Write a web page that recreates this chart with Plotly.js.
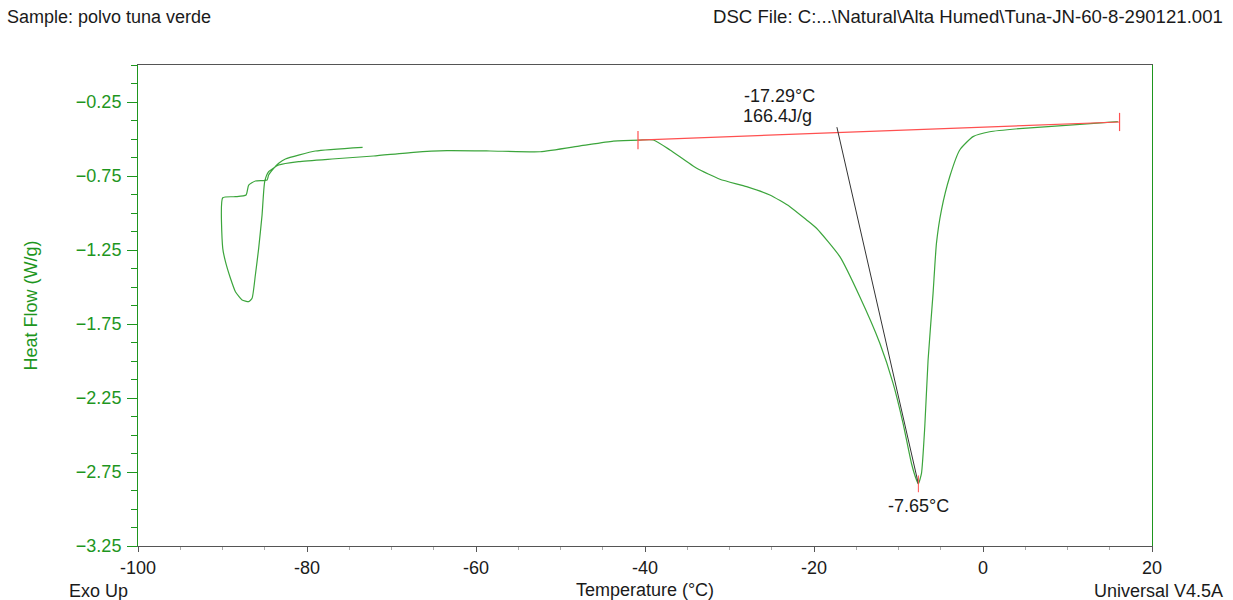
<!DOCTYPE html>
<html>
<head>
<meta charset="utf-8">
<script src="https://cdn.plot.ly/plotly-3.0.1.min.js"></script>
<style>
  html, body { margin: 0; padding: 0; background: #fff; }
  #chart { width: 1233px; height: 600px; }
</style>
</head>
<body>
<div id="chart"></div>
<script>
// DSC thermogram: heat flow (W/g) against temperature (°C)
const curveTemp = [
  -73.42, -79.01, -82.56, -83.35, -83.94, -84.54, -84.72, -86.11, -86.90, -87.21,
  -88.47, -89.97, -89.97, -89.65, -89.06, -88.47, -87.68, -86.90, -86.50, -86.11,
  -85.72, -85.32, -85.01, -84.54, -83.35, -80.99, -77.04, -72.12, -67.39, -63.44,
  -58.32, -52.41, -47.68, -43.75, -40.59, -39.02, -37.04, -33.88, -31.13, -27.97,
  -25.22, -22.85, -20.88, -19.70, -16.94, -14.58, -12.21, -10.64, -9.46, -8.47,
  -7.87, -7.65, -7.28, -6.89, -6.50, -5.91, -5.51, -4.92, -3.94, -2.75,
  -1.18, 0.79, 4.73, 10.64, 15.96
];
const curveHeatFlow = [
  -0.556, -0.581, -0.635, -0.664, -0.698, -0.743, -0.777, -0.784, -0.811, -0.878,
  -0.890, -0.897, -1.239, -1.329, -1.441, -1.532, -1.588, -1.599, -1.576, -1.419,
  -1.239, -1.014, -0.789, -0.721, -0.676, -0.653, -0.635, -0.615, -0.590, -0.579,
  -0.581, -0.586, -0.547, -0.514, -0.507, -0.507, -0.574, -0.698, -0.772, -0.822,
  -0.878, -0.957, -1.047, -1.103, -1.295, -1.566, -1.880, -2.151, -2.421, -2.691,
  -2.804, -2.830, -2.759, -2.444, -1.993, -1.543, -1.205, -0.980, -0.755, -0.574,
  -0.484, -0.451, -0.428, -0.405, -0.383
];

// Temperature axis labels (plain hyphen minus, as printed by the instrument software)
const tempTickVals = [-100, -80, -60, -40, -20, 0, 20];
const tempTickText = ['-100', '-80', '-60', '-40', '-20', '0', '20'];

// Integration baseline end points
const baselineTemp = [-40.83, 16.16];
const baselineHeatFlow = [-0.507, -0.385];

// Peak analysis results
const onsetTemp = -17.29;
const onsetHeatFlow = -0.42;
const peakTemp = -7.65;
const peakHeatFlow = -2.83;
const enthalpy = 166.4;

const green = 'rgb(30,150,30)';
const textFont = { family: 'Liberation Sans, Arial, sans-serif', size: 18, color: '#1a1a1a' };

const traces = [
  {
    x: curveTemp, y: curveHeatFlow, mode: 'lines', type: 'scatter',
    line: { color: 'rgb(60,165,60)', width: 1.2, shape: 'spline', smoothing: 0.5 }, hoverinfo: 'skip'
  },
  {
    x: baselineTemp, y: baselineHeatFlow, mode: 'lines+markers', type: 'scatter',
    line: { color: 'rgb(255,80,80)', width: 1.2 },
    marker: { symbol: 'line-ns', size: 13, line: { color: 'rgb(255,80,80)', width: 1.2 } },
    hoverinfo: 'skip'
  },
  {
    x: [onsetTemp, peakTemp], y: [onsetHeatFlow, peakHeatFlow], mode: 'lines', type: 'scatter',
    line: { color: '#333333', width: 1 }, hoverinfo: 'skip'
  },
  {
    x: [peakTemp], y: [peakHeatFlow], mode: 'markers', type: 'scatter',
    marker: { symbol: 'line-ns', size: 12, line: { color: 'rgb(255,80,80)', width: 1 } },
    hoverinfo: 'skip'
  }
];

const layout = {
  width: 1233, height: 600,
  margin: { l: 138, r: 81, t: 65, b: 54 },
  paper_bgcolor: '#fff', plot_bgcolor: '#fff',
  showlegend: false,
  font: textFont,
  xaxis: {
    range: [-100, 20], tickmode: 'array', tickvals: tempTickVals, ticktext: tempTickText,
    showgrid: false, zeroline: false,
    showline: true, linecolor: '#555', linewidth: 1, mirror: true,
    ticks: 'outside', ticklen: 5, tickcolor: '#555',
    tickfont: textFont,
    minor: { tick0: -100, dtick: 5, ticks: 'outside', ticklen: 3, tickcolor: '#aaa', showgrid: false },
    title: { text: 'Temperature (°C)', font: textFont, standoff: 6 }
  },
  yaxis: {
    range: [-3.25, 0], tick0: -0.25, dtick: 0.5,
    showgrid: false, zeroline: false,
    showline: true, linecolor: green, linewidth: 1, mirror: true,
    ticks: 'outside', ticklen: 10, tickcolor: green,
    tickformat: '.2f', ticklabelstandoff: 2,
    tickfont: { family: textFont.family, size: 18, color: green },
    minor: { dtick: 0.125, ticks: 'outside', ticklen: 6, tickcolor: green, showgrid: false },
    title: { text: 'Heat Flow (W/g)', font: { family: textFont.family, size: 18, color: green }, standoff: 33 }
  },
  annotations: [
    { xref: 'paper', yref: 'paper', x: -0.1312, y: 1.0998, xanchor: 'left', yanchor: 'middle',
      text: 'Sample: polvo tuna verde', showarrow: false, font: textFont },
    { xref: 'paper', yref: 'paper', x: 1.072, y: 1.0998, xanchor: 'right', yanchor: 'middle',
      text: 'DSC File: C:...\\Natural\\Alta Humed\\Tuna-JN-60-8-290121.001', showarrow: false,
      font: { family: textFont.family, size: 18.6, color: textFont.color } },
    { xref: 'paper', yref: 'paper', x: -0.070, y: -0.0936, xanchor: 'left', yanchor: 'middle',
      text: 'Exo Up', showarrow: false, font: textFont },
    { xref: 'paper', yref: 'paper', x: 1.072, y: -0.0936, xanchor: 'right', yanchor: 'middle',
      text: 'Universal V4.5A', showarrow: false, font: textFont },
    { x: onsetTemp, y: onsetHeatFlow, xanchor: 'right', yanchor: 'bottom', align: 'left',
      xshift: -20, yshift: 19,
      text: onsetTemp.toFixed(2) + '°C', showarrow: false, font: textFont },
    { x: onsetTemp, y: onsetHeatFlow, xanchor: 'right', yanchor: 'bottom', align: 'left',
      xshift: -23, yshift: -1,
      text: enthalpy.toFixed(1) + 'J/g', showarrow: false, font: textFont },
    { x: peakTemp, y: peakHeatFlow, xanchor: 'center', yanchor: 'top', yshift: -10,
      text: peakTemp.toFixed(2) + '°C', showarrow: false, font: textFont }
  ]
};

Plotly.newPlot('chart', traces, layout, { staticPlot: true, displayModeBar: false });
</script>
</body>
</html>
